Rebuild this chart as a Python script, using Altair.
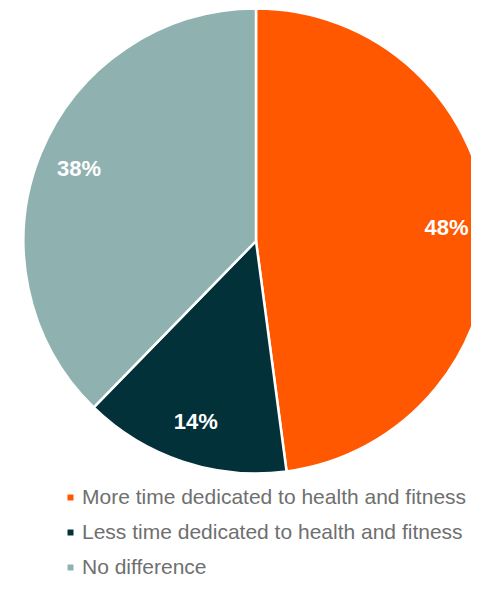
import altair as alt
import pandas as pd

categories = [
    "More time dedicated to health and fitness",
    "Less time dedicated to health and fitness",
    "No difference",
]
values = [47.9, 14.4, 37.7]
labels = ["48%", "14%", "38%"]
colors = ["#FF5800", "#02313A", "#8FB2B1"]

df = pd.DataFrame({
    "category": categories,
    "value": values,
    "label": labels,
    "idx": list(range(len(categories))),
})

CX, CY, R = 248, 233, 232.5

base = alt.Chart(df).encode(
    theta=alt.Theta("value:Q", stack=True),
    order=alt.Order("idx:Q"),
    x=alt.value(CX),
    y=alt.value(CY),
)

arcs = base.mark_arc(radius=R, stroke="white", strokeWidth=2.5).encode(
    color=alt.Color(
        "category:N",
        scale=alt.Scale(domain=categories, range=colors),
        sort=categories,
        legend=alt.Legend(
            title=None,
            orient="none",
            legendX=52,
            legendY=479,
            symbolType="square",
            symbolSize=36,
            symbolStrokeWidth=0,
            labelFontSize=21,
            labelFont="Liberation Sans",
            labelColor="#6F6F6F",
            labelOffset=1,
            rowPadding=13,
            labelLimit=500,
            padding=0,
        ),
    )
)

text = base.mark_text(
    radius=191,
    font="Liberation Sans",
    fontSize=22,
    fontWeight="bold",
    color="white",
    align="center",
    baseline="middle",
).encode(text="label:N")

chart = (
    alt.layer(arcs, text)
    .properties(width=463, height=572, padding=0, autosize=alt.AutoSizeParams(type="none"))
    .configure_view(stroke=None)
)

chart.save("out.html", embed_options={"renderer": "svg", "actions": False})
